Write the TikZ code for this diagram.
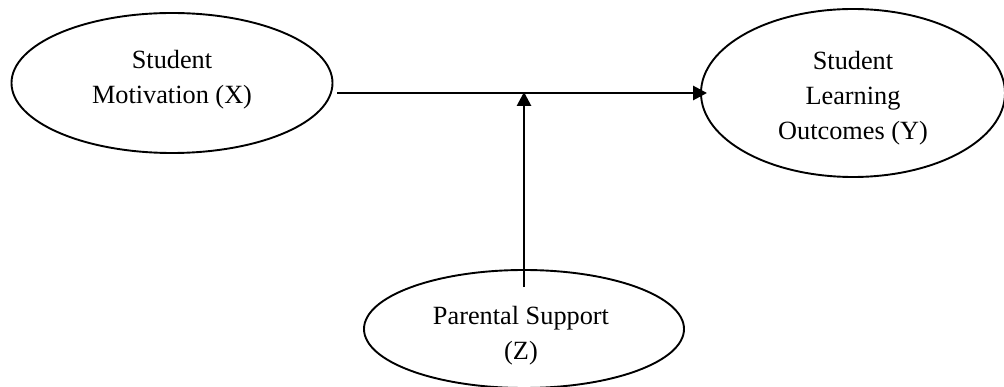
\documentclass[tikz,border=0pt]{standalone}
\usepackage{fontspec}
\setmainfont{Liberation Serif}
\usetikzlibrary{shapes.geometric,arrows.meta}
\begin{document}
\begin{tikzpicture}[x=1pt,y=-1pt,
  var/.style={draw, line width=1.9pt, ellipse, inner sep=0pt},
  lbl/.style={align=center, inner sep=0pt, font=\fontsize{26.3}{35}\selectfont},
  arr/.style={line width=2.7pt, -{Triangle[length=14pt,width=14pt]}}]
\useasboundingbox (0,0) rectangle (1004,387);
\node[var, minimum width=321pt, minimum height=140pt] (X) at (172,83) {};
\node[var, minimum width=304pt, minimum height=168pt] (Y) at (853,93) {};
\node[var, minimum width=320pt, minimum height=118pt] (Z) at (524,329) {};
\node[lbl] (Xt) at ([yshift=3pt]X.center) {Student\\Motivation (X)};
\node[lbl] (Yt) at ([yshift=-5pt]Y.center) {Student\\Learning\\Outcomes (Y)};
\node[lbl] (Zt) at ([yshift=-7pt,xshift=-3pt]Z.center) {Parental Support\\(Z)};
\coordinate (m) at (524,92);
\draw[arr, shorten >=-7pt] ([xshift=4pt]X.east |- Y.west) -- (Y.west);
\draw[arr] ([yshift=-18pt]Z.north) -- (m);
\end{tikzpicture}
\end{document}
